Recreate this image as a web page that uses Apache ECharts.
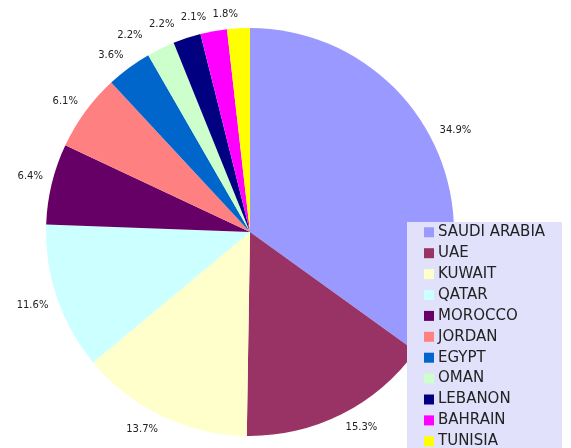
<!DOCTYPE html>
<html>
<head>
<meta charset="utf-8">
<script src="https://cdn.jsdelivr.net/npm/echarts@6/dist/echarts.min.js"></script>
<style>
  html, body { margin: 0; padding: 0; background: #fff; }
  #main { width: 571px; height: 448px; }
</style>
</head>
<body>
<div id="main"></div>
<script>
// data
const countries = ['SAUDI ARABIA', 'UAE', 'KUWAIT', 'QATAR', 'MOROCCO', 'JORDAN', 'EGYPT', 'OMAN', 'LEBANON', 'BAHRAIN', 'TUNISIA'];
const shares = [34.9, 15.3, 13.7, 11.6, 6.4, 6.1, 3.6, 2.2, 2.2, 2.1, 1.8];
const colors = ['#9999ff', '#993366', '#ffffcc', '#ccffff', '#660066', '#ff8080', '#0066cc', '#ccffcc', '#000080', '#ff00ff', '#ffff00'];

const CX = 250, CY = 232, R = 204;
const LABEL_R = 210;          // anchor point of the label, just outside the pie
const LABEL_FONT = '10px "DejaVu Sans"';

// label box corner nearest the pie sits on the anchor (excel style)
const ctx = document.createElement('canvas').getContext('2d');
ctx.font = LABEL_FONT;
const total = shares.reduce((a, b) => a + b, 0);

let acc = 0;
const boxes = shares.map(v => {
    const mid = (acc + v / 2) / total * Math.PI * 2;
    acc += v;
    const sx = Math.sin(mid), sy = -Math.cos(mid);
    const hw = ctx.measureText(v.toFixed(1) + '%').width / 2;
    const hh = 5;
    return {
        hw, hh, sx, sy,
        dx: sx * LABEL_R + Math.sign(sx) * hw,
        dy: sy * LABEL_R + Math.sign(sy) * hh
    };
});

// crowded labels get slid sideways (walk from the last slice back)
for (let i = boxes.length - 2; i >= 0; i--) {
    const a = boxes[i], b = boxes[i + 1];
    const minX = a.hw + b.hw + 6;
    if (Math.abs(a.dy - b.dy) < a.hh + b.hh + 2 && Math.abs(a.dx - b.dx) < minX) {
        a.dx = a.sx < 0 ? b.dx - minX : b.dx + minX;
    }
}

const pieData = countries.map((name, i) => ({ name: name, value: shares[i] }));
// 'inside' puts the label on the ring middle (LABEL_R), offset moves it from there
const labelData = countries.map((name, i) => {
    const b = boxes[i];
    return {
        name: name,
        value: shares[i],
        label: { offset: [b.dx - b.sx * LABEL_R, b.dy - b.sy * LABEL_R] }
    };
});

const chart = echarts.init(document.getElementById('main'));

const option = {
    animation: false,
    color: colors,
    graphic: [{
        type: 'rect',
        z: 5,
        shape: { x: 407, y: 222, width: 155, height: 240 },
        style: { fill: '#e1e1fb' }
    }],
    legend: {
        orient: 'vertical',
        left: 424,
        top: 224.8,
        height: 400,
        z: 6,
        padding: 0,
        itemWidth: 10,
        itemHeight: 10,
        itemGap: 5.9,
        icon: 'rect',
        data: countries,
        textStyle: {
            fontFamily: 'DejaVu Sans',
            fontSize: 15,
            lineHeight: 15,
            color: '#222',
            padding: [0, 0, 0, -1]
        }
    },
    series: [
        {
            // the pie itself
            type: 'pie',
            center: [CX, CY],
            radius: [0, R],
            startAngle: 90,
            clockwise: true,
            label: { show: false },
            labelLine: { show: false },
            emphasis: { disabled: true },
            data: pieData
        },
        {
            // invisible ring only used to carry the % labels
            type: 'pie',
            center: [CX, CY],
            radius: [LABEL_R - 6, LABEL_R + 6],
            startAngle: 90,
            clockwise: true,
            silent: true,
            legendHoverLink: false,
            itemStyle: { color: 'rgba(0,0,0,0)' },
            label: {
                show: true,
                position: 'inside',
                formatter: p => p.value.toFixed(1) + '%',
                fontFamily: 'DejaVu Sans',
                fontSize: 10,
                color: '#222'
            },
            labelLine: { show: false },
            labelLayout: { hideOverlap: false },
            emphasis: { disabled: true },
            data: labelData
        }
    ]
};

chart.setOption(option);
</script>
</body>
</html>
